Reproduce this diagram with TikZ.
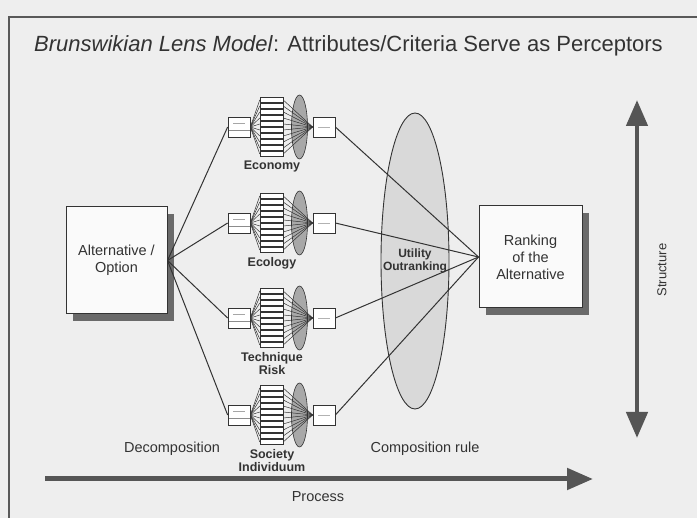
\documentclass[tikz,border=0pt]{standalone}
\usepackage{fontspec}
\setmainfont{Liberation Sans}
\usetikzlibrary{positioning,arrows.meta,shadows,shapes.geometric}
\definecolor{ink}{HTML}{333333}
\definecolor{paper}{HTML}{EEEEEE}
\definecolor{lensfill}{HTML}{D9D9D9}
\definecolor{minifill}{HTML}{A8A8A8}
\definecolor{shade}{HTML}{6A6A6A}
\definecolor{arrowgray}{HTML}{555555}
\tikzset{
  bigbox/.style={rectangle,draw=ink,fill=white!70!paper,line width=1pt,align=center,
    minimum width=101pt,minimum height=107pt,inner sep=2pt,
    font=\fontsize{14.5}{17}\selectfont,
    drop shadow={shadow xshift=7pt,shadow yshift=-7pt,fill=shade,opacity=1}},
  lens/.style={ellipse,draw=ink,fill=lensfill,line width=.9pt,minimum width=68pt,
    minimum height=296pt,inner sep=0pt},
  lenstext/.style={align=center,inner sep=0pt,font=\fontsize{12}{13.5}\selectfont\bfseries},
  minilens/.style={ellipse,draw=ink,fill=minifill,line width=.6pt,minimum width=16pt,
    minimum height=64pt,inner sep=0pt},
  cuein/.style={rectangle,draw=ink,fill=white,line width=.7pt,minimum width=22pt,
    minimum height=20pt,inner sep=0pt,
    path picture={\draw[black!45,line width=.5pt]
      ([yshift=-3pt]path picture bounding box.west) -- ([yshift=-3pt]path picture bounding box.east);
      \draw[black!35,line width=.4pt] ([yshift=4pt,xshift=-6pt]path picture bounding box.center)
      -- ([yshift=4pt,xshift=6pt]path picture bounding box.center);}},
  cueout/.style={rectangle,draw=ink,fill=white,line width=.7pt,minimum width=22pt,
    minimum height=20pt,inner sep=0pt,
    path picture={\draw[black!30,line width=.4pt]
      ([xshift=-6pt]path picture bounding box.center) -- ([xshift=6pt]path picture bounding box.center);}},
  bar/.style={rectangle,draw=ink,fill=white,line width=.5pt,minimum width=23pt,
    minimum height=4.6pt,inner sep=0pt},
  fan/.style={draw=ink,line width=.5pt},
  link/.style={draw=ink,line width=1pt},
  modlabel/.style={align=center,font=\fontsize{12.5}{13.5}\selectfont\bfseries,inner sep=1pt},
  bigarrow/.style={draw=arrowgray,line width=5pt,
    -{Triangle[length=26pt,width=21pt]}},
  dblarrow/.style={draw=arrowgray,line width=4.5pt,
    {Triangle[length=26pt,width=21pt]}-{Triangle[length=26pt,width=21pt]}},
  frame/.style={draw=black!65,line width=2pt},
}

\begin{document}
\begin{tikzpicture}[x=1pt,y=-1pt,font=\fontsize{14.5}{17}\selectfont,text=ink]
  % page and frame
  \useasboundingbox (0,0) rectangle (697,518);
  \fill[paper] (0,0) rectangle (697,518);
  \draw[frame] (9,518) -- (9,17) -- (697,17);
  % title
  \node[anchor=base west,inner sep=0pt,font=\fontsize{22}{26}\selectfont] (title) at (34,52)
    {\textit{Brunswikian Lens Model}: Attributes/Criteria Serve as Perceptors};
  % alternative and ranking
  \node[bigbox] (alt) at (116.5,260.5) {Alternative /\\Option};
  \node[bigbox,minimum width=103pt,minimum height=102pt] (rank) at (530.5,257)
    {Ranking\\of the\\Alternative};
  % composition lens
  \node[lens] (lens) at (415,261) {};
  % the four criteria lenses
  \foreach \yy/\n/\lab in {127/eco/Economy,223/ecol/Ecology,
      318/tech/{Technique\\Risk},415/soc/{Society\\Individuum}}{
    \node[minilens] (\n-lens) at (299.5,\yy) {};
    \node[cuein] (\n-in) at (239,\yy) {};
    \node[cueout] (\n-out) at (324,\yy) {};
    \foreach \i in {0,...,9}{
      \node[bar] (\n-bar\i) at (271.5,\yy-27+6*\i) {};
      \draw[fan] (\n-in.east) -- (\n-bar\i.west);
      \draw[fan] (\n-bar\i.east) -- (\n-out.west);
    }
    \node[modlabel,anchor=north] (\n-lab) at (272,\yy+33) {\lab};
    \draw[link] (alt.east) -- (\n-in.west);
    \draw[link] (\n-out.east) -- (rank.west);
  }
  \node[lenstext] (lenslab) at (lens.center) {Utility\\Outranking};
  % lower labels
  \node (decomp) at (172,449) {Decomposition};
  \node (comprule) at (425,449) {Composition rule};
  % process and structure
  \coordinate (procL) at (45,479);
  \coordinate (procR) at (593,479);
  \draw[bigarrow] (procL) -- (procR);
  \node (proc) at (318,497) {Process};
  \coordinate (strTop) at (637,100);
  \coordinate (strBot) at (637,438);
  \draw[dblarrow] (strBot) -- (strTop);
  \node[rotate=90,font=\fontsize{13}{15}\selectfont] (struct) at (662,270) {Structure};
\end{tikzpicture}
\end{document}
